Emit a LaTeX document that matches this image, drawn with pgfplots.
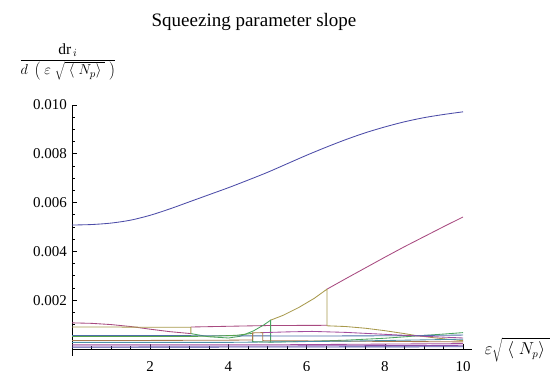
\documentclass[border=0pt]{standalone}
\usepackage{fontspec}
\setmainfont{Liberation Serif}
\usepackage{pgfplots}
\pgfplotsset{compat=1.18}
\definecolor{c1}{rgb}{0.30,0.30,0.66}
\definecolor{c2}{rgb}{0.66,0.29,0.50}
\definecolor{c3}{rgb}{0.66,0.60,0.30}
\definecolor{c4}{rgb}{0.29,0.64,0.37}
\definecolor{c5}{rgb}{0.30,0.44,0.66}
\definecolor{c6}{rgb}{0.64,0.30,0.62}
\definecolor{c7}{rgb}{0.66,0.47,0.30}
\definecolor{c8}{rgb}{0.34,0.64,0.30}
\definecolor{c9}{rgb}{0.30,0.56,0.66}
\definecolor{c10}{rgb}{0.54,0.30,0.66}
\begin{document}
\begin{tikzpicture}
\begin{axis}[
  at={(72pt,15.2pt)}, anchor=south west,
  scale only axis, width=400pt, height=250.8pt,
  xmin=0, xmax=10.23, ymin=-0.28, ymax=10,
  axis lines=middle, axis line style={-, line width=0.6pt, black},
  xtick={2,4,6,8,10}, ytick={2,4,6,8,10},
  yticklabels={0.002,0.004,0.006,0.008,0.010},
  minor xtick={0.5,1,...,10}, minor ytick={0.5,1,...,9.5},
  tick align=inside,
  major tick length=5pt, minor tick length=3pt,
  tick style={black, line width=0.6pt},
  ticklabel style={font=\fontsize{15}{18}\selectfont, inner sep=0pt},
  xticklabel style={anchor=north, yshift=-12.5pt},
  yticklabel style={anchor=east, xshift=-5pt},
  /pgf/number format/assume math mode=true,
  clip=false,
  every axis plot/.append style={line width=0.85pt},
]
% blue top curve
\addplot[c1, smooth] coordinates {(0,5.08) (0.5,5.10) (1,5.16) (1.5,5.28) (2,5.48) (2.5,5.74) (3,6.03) (3.5,6.32) (4,6.61) (4.5,6.92) (5,7.24) (5.5,7.59) (6,7.94) (6.5,8.27) (7,8.58) (7.5,8.86) (8,9.10) (8.5,9.31) (9,9.48) (9.5,9.61) (10,9.72)};
% magenta pieces
\addplot[c2] coordinates {(0,1.07) (0.5,1.05) (1,1.00) (1.5,0.92) (2,0.81) (2.5,0.71) (3.04,0.63)};
\addplot[c2] coordinates {(3.04,0.90) (4,0.93) (5,0.96) (6.52,0.97)};
\addplot[c2] coordinates {(6.52,2.45) (7,2.88) (7.5,3.32) (8,3.76) (8.5,4.19) (9,4.60) (9.5,5.01) (10,5.41)};
% olive
\addplot[c3] coordinates {(0,0.90) (1,0.90) (2,0.89) (3.04,0.89) (3.04,0.63)};
\addplot[c3] coordinates {(5.08,1.18) (5.4,1.38) (5.8,1.70) (6.2,2.08) (6.52,2.45) (6.52,0.95) (7,0.92) (7.5,0.85) (8,0.75) (8.5,0.63) (8.8,0.55) (9.2,0.47) (9.6,0.40) (10,0.34)};
% green
\addplot[c4] coordinates {(3.04,0.63) (3.5,0.50) (4.0,0.45) (4.3,0.52) (4.64,0.74) (4.9,0.98) (5.08,1.18) (5.08,0.28) (6,0.31) (7,0.36) (8,0.44) (8.78,0.53) (9.5,0.61) (10,0.67)};
% blue-teal
\addplot[c5] coordinates {(0,0.55) (2,0.55) (4,0.54) (6,0.53) (8,0.54) (10,0.57)};
% second green
\addplot[c8] coordinates {(0,0.51) (2,0.51) (3.5,0.52) (4.2,0.56) (4.62,0.64) (4.62,0.30) (5.08,0.28)};
% brown
\addplot[c7] coordinates {(0,0.35) (2,0.35) (4,0.36) (4.62,0.37) (4.62,0.66) (4.88,0.67) (4.88,0.34) (6,0.33) (8,0.31) (10,0.29)};
% purple bump
\addplot[c6] coordinates {(4.88,0.67) (5.5,0.70) (6.14,0.72) (7,0.68) (8,0.60) (9,0.52) (10,0.45)};
% low lines
\addplot[c9] coordinates {(0,0.27) (4,0.27) (7,0.32) (10,0.40)};
\addplot[c6] coordinates {(0,0.17) (5,0.17) (10,0.22)};
\addplot[c10] coordinates {(0,0.12) (5,0.12) (10,0.15)};
\addplot[c1] coordinates {(0,0.07) (10,0.09)};
\end{axis}
\node[anchor=base, font=\fontsize{19}{22}\selectfont] at (254pt,344.3pt) {Squeezing parameter slope};
\node[font=\fontsize{15.5}{18}\selectfont] at (68pt,309pt) {$\displaystyle\frac{\mathrm{dr}_{\,i}}{d\;\left(\;\varepsilon\;\sqrt{\;\langle\;N_p\rangle\;}\;\right)}$};
\node[anchor=base west, font=\fontsize{16}{19}\selectfont] at (481pt,16pt) {$\varepsilon\sqrt{\;\langle\;N_p\rangle\;}$};
\pgfresetboundingbox
\path (0pt,0pt) rectangle (551pt,371pt);
\end{tikzpicture}
\end{document}
